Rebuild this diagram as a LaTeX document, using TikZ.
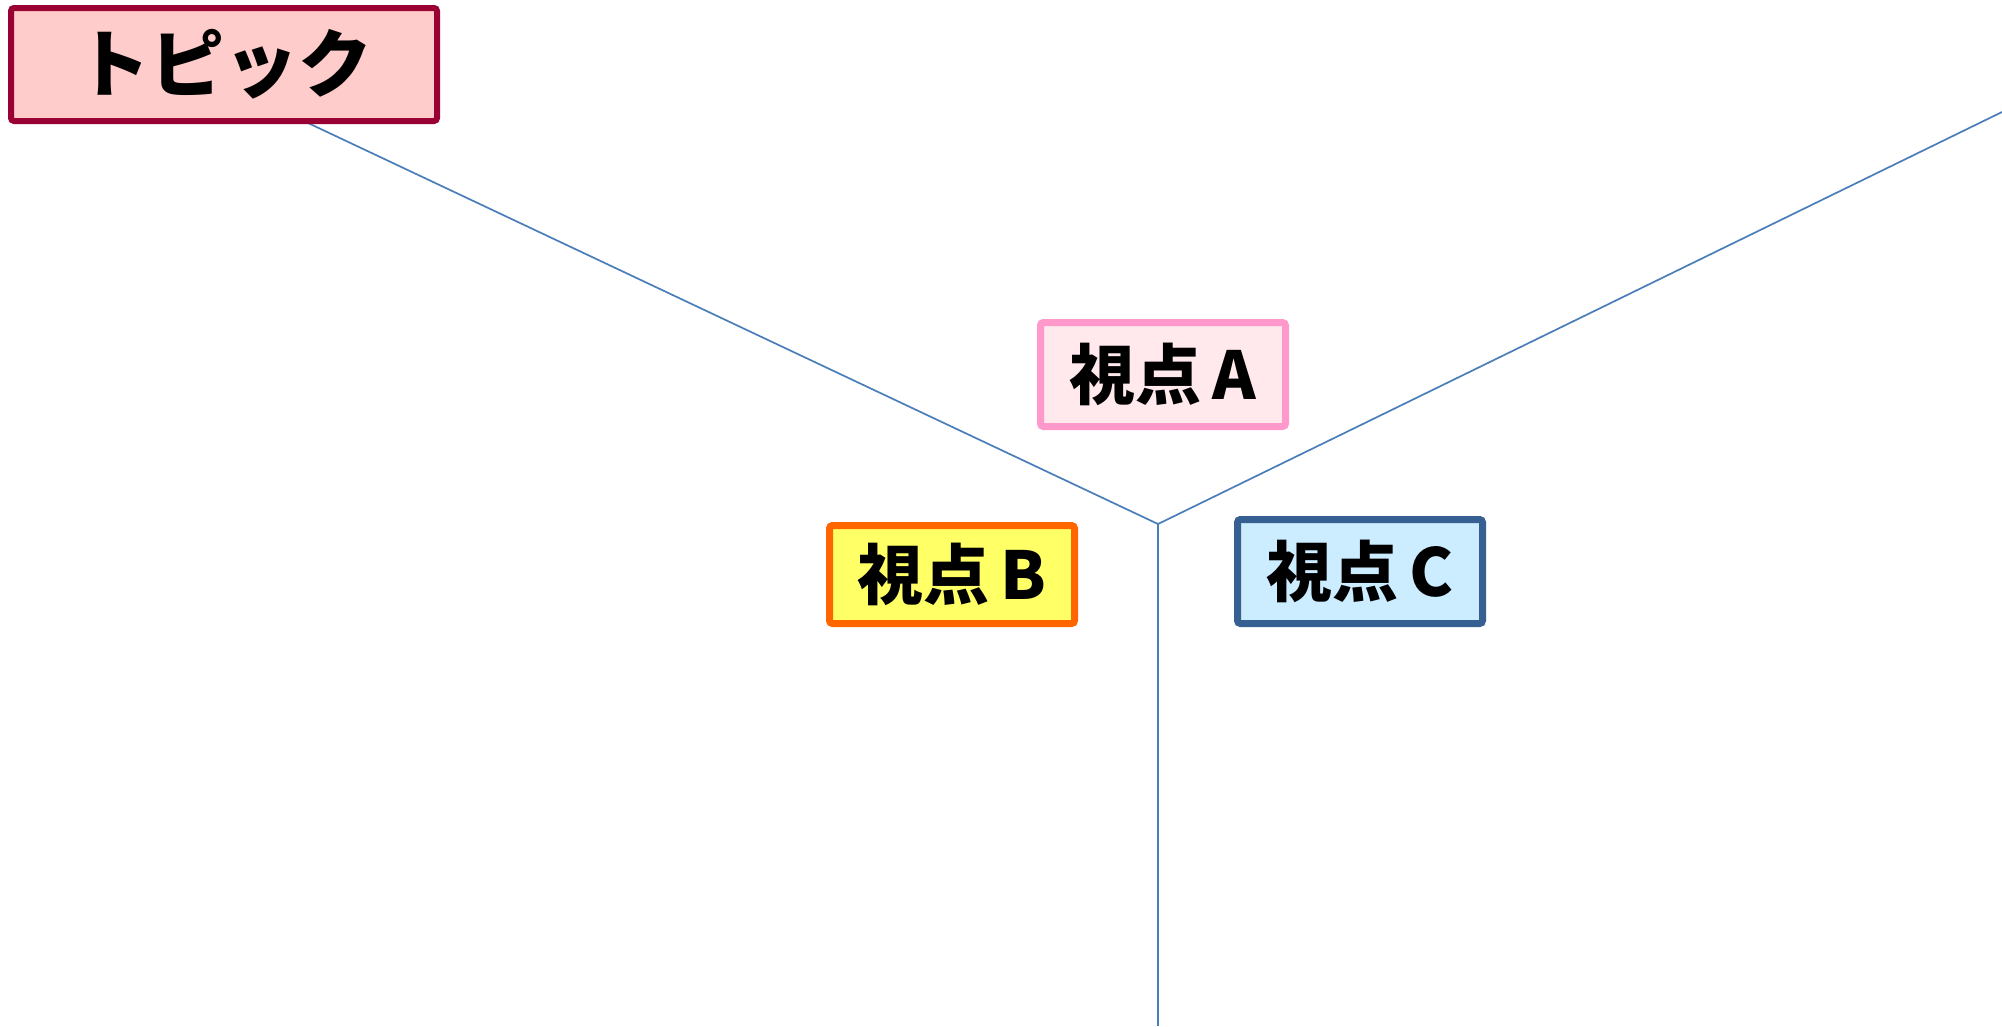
\documentclass[tikz,border=0pt]{standalone}
\usepackage{fontspec}
\newfontfamily\jp{Noto Sans CJK JP}
\begin{document}
\begin{tikzpicture}[x=1pt,y=-1pt,
  conn/.style={draw=linkblue,line width=1.7pt},
  box/.style={rounded corners=3pt,inner sep=0pt,font=\jp\bfseries\fontsize{66}{70}\selectfont},
]
\definecolor{linkblue}{HTML}{4A7EBB}
\definecolor{topicborder}{HTML}{990033}
\definecolor{topicfill}{HTML}{FFCCCC}
\definecolor{aborder}{HTML}{FF99CC}
\definecolor{afill}{HTML}{FFE9EC}
\definecolor{bborder}{HTML}{FF6600}
\definecolor{bfill}{HTML}{FFFF66}
\definecolor{cborder}{HTML}{376092}
\definecolor{cfill}{HTML}{CCECFF}
\useasboundingbox[fill=white] (0,0) rectangle (2002,1026);
\coordinate (j) at (1158,524);
\coordinate (tl) at (183,64);
\coordinate (tr) at (2002,112);
\coordinate (bt) at (1158,1026);
\draw[conn] (j) -- (tl);
\draw[conn] (j) -- (tr);
\draw[conn] (j) -- (bt);
\node[box,draw=topicborder,fill=topicfill,line width=6pt,minimum width=426pt,minimum height=113pt,font=\jp\bfseries\fontsize{74}{78}\selectfont] (topic) at (224,64.5) {トピック\hspace{12pt}};
\node[box,draw=aborder,fill=afill,line width=7pt,minimum width=245pt,minimum height=104pt] (a) at (1163,374.5) {視点\,A\hspace{6pt}};
\node[box,draw=bborder,fill=bfill,line width=7pt,minimum width=245pt,minimum height=98pt] (b) at (952,574.5) {視点\,B\hspace{12pt}};
\node[box,draw=cborder,fill=cfill,line width=7pt,minimum width=245pt,minimum height=104pt] (c) at (1360,571.5) {視点\,C\hspace{12pt}};
\end{tikzpicture}
\end{document}
